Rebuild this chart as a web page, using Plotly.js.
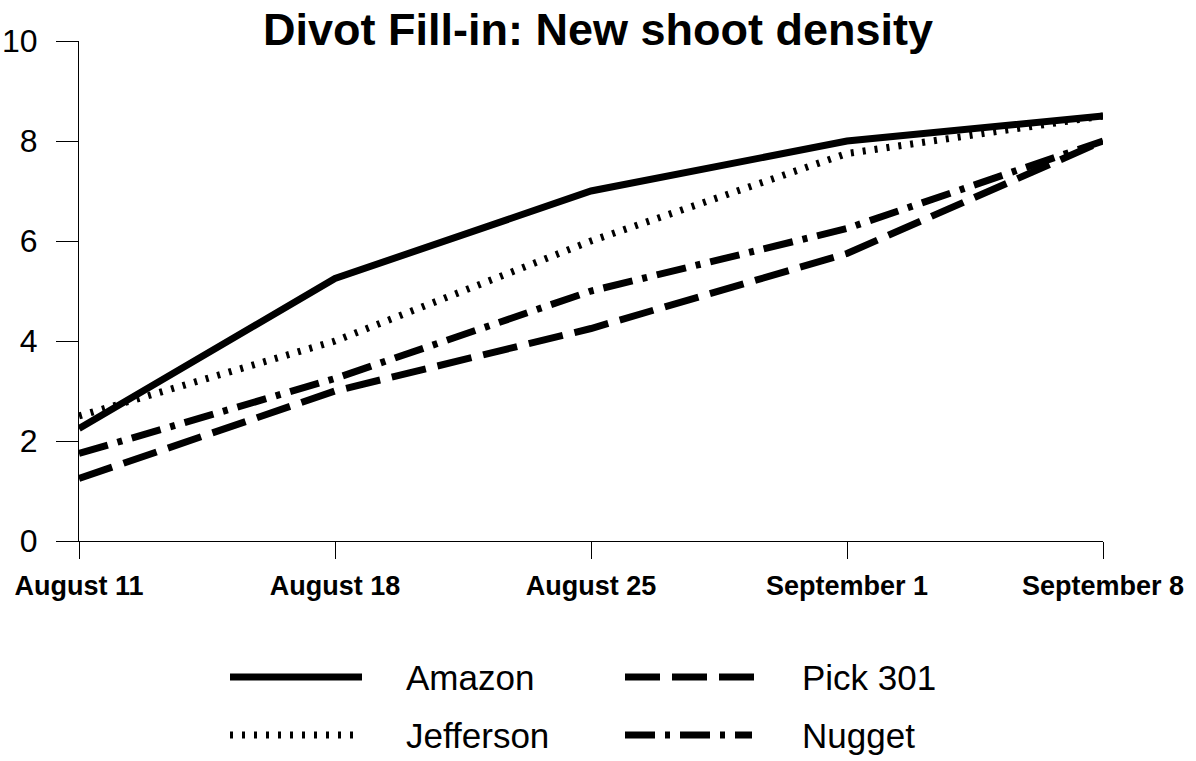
<!DOCTYPE html>
<html>
<head>
<meta charset="utf-8">
<script src="https://cdn.plot.ly/plotly-3.0.1.min.js"></script>
<style>html,body{margin:0;padding:0;background:#fff;}#chart{width:1196px;height:761px;}</style>
</head>
<body>
<div id="chart"></div>
<script>
const dates = ["August 11", "August 18", "August 25", "September 1", "September 8"];
const amazon = [2.25, 5.25, 7, 8, 8.5];
const jefferson = [2.5, 4, 6, 7.75, 8.5];
const pick301 = [1.25, 3, 4.25, 5.75, 8];
const nugget = [1.75, 3.25, 5, 6.25, 8];
const seriesNames = ["Amazon", "Jefferson", "Pick 301", "Nugget"];
const yTicks = [0, 2, 4, 6, 8, 10];

const W = 7;
const dashes = ["solid", "3px,9px", "35px,12px", "30px,10px,5px,10px"];
const values = [amazon, jefferson, pick301, nugget];
const order = [3, 2, 1, 0];
const traces = order.map(i => ({
  x: dates, y: values[i], name: seriesNames[i], type: "scatter", mode: "lines",
  line: {color: "#000", width: W, dash: dashes[i]}, showlegend: false, hoverinfo: "skip"
}));

const L = 79, R = 1103, T = 41, B = 541;
const px = v => (v - L) / (R - L);
const py = v => (B - v) / (B - T);
const lightFont = "'Liberation Sans', Arial, sans-serif";

const legendPos = [
  {x0: 230, x1: 362, y: 677, tx: 407},
  {x0: 230, x1: 356, y: 735, tx: 407},
  {x0: 625, x1: 757, y: 677, tx: 803},
  {x0: 625, x1: 752, y: 735, tx: 803}
];
const shapes = legendPos.map((p, i) => ({
  type: "line", xref: "paper", yref: "paper",
  x0: px(p.x0), x1: px(p.x1), y0: py(p.y), y1: py(p.y),
  line: {color: "#000", width: W, dash: dashes[i]}
}));
const annotations = legendPos.map((p, i) => ({
  xref: "paper", yref: "paper", x: px(p.tx - 3), y: py(p.y),
  xanchor: "left", yanchor: "middle", showarrow: false,
  text: seriesNames[i], font: {family: lightFont, size: 35, color: "#000"}
}));

const layout = {
  width: 1196, height: 761,
  margin: {l: L, r: 1196 - R, t: T, b: 761 - B},
  paper_bgcolor: "#fff", plot_bgcolor: "#fff",
  showlegend: false,
  title: {
    text: "<b>Divot Fill-in: New shoot density</b>",
    font: {family: "'Liberation Sans', Arial, sans-serif", size: 45, color: "#000"},
    x: 0.5, xanchor: "center", xref: "container",
    y: 1 - 29 / 761, yanchor: "middle", yref: "container"
  },
  xaxis: {
    type: "category", range: [0, 4], showgrid: false, zeroline: false,
    showline: true, linecolor: "#000", linewidth: 1,
    ticks: "outside", ticklen: 17, tickwidth: 1, tickcolor: "#000",
    tickfont: {family: "'Liberation Sans', Arial, sans-serif", size: 27, color: "#000", weight: "bold"},
    ticklabelstandoff: 4
  },
  yaxis: {
    range: [0, 10], tickvals: yTicks, showgrid: false, zeroline: false,
    showline: true, linecolor: "#000", linewidth: 1,
    ticks: "outside", ticklen: 22, tickwidth: 1, tickcolor: "#000",
    tickfont: {family: lightFont, size: 32, color: "#000"},
    ticklabelstandoff: 12
  },
  shapes: shapes,
  annotations: annotations
};

Plotly.newPlot("chart", traces, layout, {staticPlot: true, displayModeBar: false});
</script>
</body>
</html>
